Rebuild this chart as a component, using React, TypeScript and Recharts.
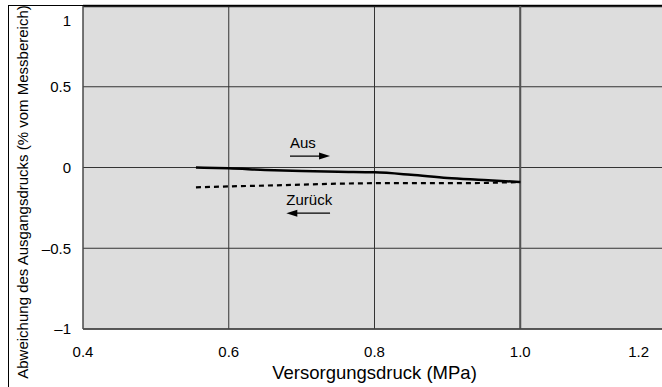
import React from 'react';
import {
  LineChart,
  Line,
  XAxis,
  YAxis,
  CartesianGrid,
  ReferenceLine,
  ReferenceDot,
} from 'recharts';

// supply pressure (MPa)
const pressure = [0.555, 0.6, 0.65, 0.7, 0.75, 0.8, 0.85, 0.9, 0.95, 1.0];
// deviation of output pressure, "Aus" (going up) and "Zurück" (coming back)
const aus = [0, -0.005, -0.015, -0.022, -0.027, -0.03, -0.045, -0.065, -0.077, -0.09];
const zurueck = [-0.123, -0.117, -0.112, -0.106, -0.1, -0.097, -0.097, -0.097, -0.096, -0.09];

const xTicks = [0.4, 0.6, 0.8, 1.0, 1.2];
const yTicks = [-1, -0.5, 0, 0.5, 1];

// annotation positions in data units
const ausLabel = { text: 'Aus', x: 0.684, y: 0.121 };
const ausArrow = { from: 0.684, to: 0.739, y: 0.071 };
const zurueckLabel = { text: 'Zurück', x: 0.679, y: -0.233 };
const zurueckArrow = { from: 0.739, to: 0.679, y: -0.283 };

const data = pressure.map((p, i) => ({ p, aus: aus[i], zurueck: zurueck[i] }));

const FONT = '"Liberation Sans", Arial, Helvetica, sans-serif';

const fmtY = (v: number) => (v < 0 ? '\u2013' + String(Math.abs(v)) : String(v));

const XTick = (props: any) => {
  const { x, y, payload } = props;
  const last = payload.value === 1.2;
  return (
    <text
      x={last ? x - 11 : x}
      y={y}
      dy="0.71em"
      textAnchor={last ? 'end' : 'middle'}
      fill="#000"
      fontSize={15}
      fontFamily={FONT}
    >
      {payload.value.toFixed(1)}
    </text>
  );
};

const YTick = (props: any) => {
  const { x, y, payload } = props;
  const top = payload.value === 1;
  return (
    <text
      x={x}
      y={top ? y + 12 : y}
      dy="0.355em"
      textAnchor="end"
      fill="#000"
      fontSize={15}
      fontFamily={FONT}
    >
      {fmtY(payload.value)}
    </text>
  );
};

const arrowHead = (dir: number) => (props: any) => {
  const { cx, cy } = props;
  return (
    <polygon
      points={`${cx},${cy} ${cx - dir * 11},${cy - 3.5} ${cx - dir * 11},${cy + 3.5}`}
      fill="#000"
    />
  );
};

const labelShape = (text: string) => (props: any) => {
  const { cx, cy } = props;
  return (
    <text x={cx} y={cy} fill="#000" fontSize={15} fontFamily={FONT}>
      {text}
    </text>
  );
};

const App: React.FC = () => {
  return (
    <div style={{ position: 'absolute', left: 0, top: 0, width: 662, height: 387, overflow: 'hidden', background: '#fff' }}>
      <LineChart width={670} height={387} data={data} margin={{ top: 6, right: 4, left: 0, bottom: 0 }}>
        <CartesianGrid stroke="#333" strokeWidth={1} fill="#dddddd" />
        <XAxis
          type="number"
          dataKey="p"
          domain={[0.4, 1.2]}
          ticks={xTicks}
          tick={<XTick />}
          tickLine={false}
          tickMargin={11}
          axisLine={{ stroke: '#444', strokeWidth: 1.5 }}
          height={58}
          label={{
            value: 'Versorgungsdruck (MPa)',
            position: 'insideBottom',
            offset: 8,
            fill: '#000',
            fontSize: 18.5,
            fontFamily: FONT,
          }}
        />
        <YAxis
          type="number"
          domain={[-1, 1]}
          ticks={yTicks}
          tick={<YTick />}
          tickLine={false}
          tickMargin={6}
          width={83}
          axisLine={{ stroke: '#555', strokeWidth: 1 }}
          label={{
            content: () => {
              const cx = 28;
              const cy = 192;
              return (
                <text
                  x={cx}
                  y={cy}
                  transform={`rotate(-90 ${cx} ${cy})`}
                  textAnchor="middle"
                  fill="#000"
                  fontSize={15}
                  fontFamily={FONT}
                >
                  Abweichung des Ausgangsdrucks (% vom Messbereich)
                </text>
              );
            },
          }}
        />
        <ReferenceLine y={1} stroke="#222" strokeWidth={2.5} />
        <ReferenceLine x={1.0} stroke="#555" strokeWidth={2} />

        <ReferenceLine
          segment={[{ x: ausArrow.from, y: ausArrow.y }, { x: ausArrow.to - 0.012, y: ausArrow.y }]}
          stroke="#000"
          strokeWidth={1.2}
        />
        <ReferenceDot x={ausArrow.to} y={ausArrow.y} r={0} shape={arrowHead(1)} />
        <ReferenceDot x={ausLabel.x} y={ausLabel.y} r={0} shape={labelShape(ausLabel.text)} />

        <ReferenceLine
          segment={[{ x: zurueckArrow.from, y: zurueckArrow.y }, { x: zurueckArrow.to + 0.012, y: zurueckArrow.y }]}
          stroke="#000"
          strokeWidth={1.2}
        />
        <ReferenceDot x={zurueckArrow.to} y={zurueckArrow.y} r={0} shape={arrowHead(-1)} />
        <ReferenceDot x={zurueckLabel.x} y={zurueckLabel.y} r={0} shape={labelShape(zurueckLabel.text)} />

        <Line
          type="linear"
          dataKey="zurueck"
          stroke="#000"
          strokeWidth={2.2}
          strokeDasharray="5 4"
          dot={false}
          isAnimationActive={false}
        />
        <Line
          type="monotone"
          dataKey="aus"
          stroke="#000"
          strokeWidth={2.5}
          dot={false}
          isAnimationActive={false}
        />
      </LineChart>
      <div
        style={{
          position: 'absolute',
          left: 8,
          top: 5,
          width: 700,
          height: 400,
          borderLeft: '1px solid #000',
          borderTop: '1px solid #000',
          pointerEvents: 'none',
        }}
      />
    </div>
  );
};

export default App;
